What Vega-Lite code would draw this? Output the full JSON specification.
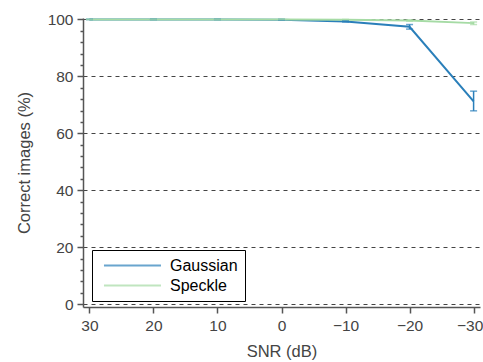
{
  "$schema": "https://vega.github.io/schema/vega-lite/v6.json",
  "width": 397,
  "height": 289,
  "autosize": "none",
  "padding": {"left": 83, "top": 18, "right": 3, "bottom": 55},
  "background": "white",
  "config": {
    "view": {"stroke": null},
    "font": "Liberation Sans",
    "axis": {
      "domainColor": "#555555",
      "domainWidth": 1.5,
      "tickColor": "#555555",
      "tickWidth": 1.5,
      "labelFont": "Liberation Sans",
      "labelFontSize": 15.5,
      "labelColor": "#444444",
      "titleFont": "Liberation Sans",
      "titleFontSize": 16.5,
      "titleFontWeight": "normal",
      "titleColor": "#444444"
    }
  },
  "data": {
    "values": [
      {"series": "Gaussian", "snr": 30, "acc": 100, "lo": 100, "hi": 100},
      {"series": "Gaussian", "snr": 20, "acc": 100, "lo": 100, "hi": 100},
      {"series": "Gaussian", "snr": 10, "acc": 100, "lo": 100, "hi": 100},
      {"series": "Gaussian", "snr": 0, "acc": 99.9, "lo": 99.8, "hi": 100},
      {"series": "Gaussian", "snr": -10, "acc": 99.3, "lo": 99.1, "hi": 99.5},
      {"series": "Gaussian", "snr": -20, "acc": 97.4, "lo": 96.6, "hi": 98.2},
      {"series": "Gaussian", "snr": -30, "acc": 71.2, "lo": 67.9, "hi": 74.8},
      {"series": "Speckle", "snr": 30, "acc": 100, "lo": 100, "hi": 100},
      {"series": "Speckle", "snr": 20, "acc": 100, "lo": 100, "hi": 100},
      {"series": "Speckle", "snr": 10, "acc": 100, "lo": 100, "hi": 100},
      {"series": "Speckle", "snr": 0, "acc": 100, "lo": 100, "hi": 100},
      {"series": "Speckle", "snr": -10, "acc": 99.9, "lo": 99.8, "hi": 100},
      {"series": "Speckle", "snr": -20, "acc": 99.6, "lo": 99.4, "hi": 99.8},
      {"series": "Speckle", "snr": -30, "acc": 98.7, "lo": 98.2, "hi": 99.1}
    ]
  },
  "encoding": {
    "x": {
      "field": "snr",
      "type": "quantitative",
      "scale": {"domain": [31, -31], "nice": false, "zero": false},
      "axis": {
        "title": "SNR (dB)",
        "values": [30, 20, 10, 0, -10, -20, -30],
        "labelExpr": "replace(format(datum.value, 'd'), '-', '\u2212')",
        "labelOffset": {"condition": {"test": "datum.value === -30", "value": -4}, "value": 0},
        "tickSize": 6,
        "labelPadding": 5,
        "titlePadding": 10,
        "grid": false
      }
    },
    "y": {
      "field": "acc",
      "type": "quantitative",
      "scale": {"domain": [-1, 100.5], "nice": false, "zero": false},
      "axis": {
        "title": "Correct images (%)",
        "values": [0, 4, 8, 12, 16, 20, 24, 28, 32, 36, 40, 44, 48, 52, 56, 60, 64, 68, 72, 76, 80, 84, 88, 92, 96, 100],
        "labelExpr": "datum.value % 20 === 0 ? datum.label : ''",
        "tickSize": {"condition": {"test": "datum.value % 20 === 0", "value": 6}, "value": 3},
        "labelPadding": 4,
        "titlePadding": 15,
        "grid": true,
        "gridColor": "#444444",
        "gridDash": [4, 4],
        "gridWidth": 1,
        "gridOpacity": {"condition": {"test": "datum.value % 20 === 0", "value": 1}, "value": 0}
      }
    },
    "color": {
      "field": "series",
      "type": "nominal",
      "scale": {"domain": ["Gaussian", "Speckle"], "range": ["#2a7fba", "#a6dba5"]},
      "legend": {
        "title": null,
        "orient": "none",
        "legendX": 9,
        "legendY": 232,
        "strokeColor": "black",
        "fillColor": "white",
        "padding": 7,
        "symbolType": "M-0.47,0H7.13",
        "symbolSize": 225,
        "symbolStrokeWidth": 2,
        "labelFontSize": 16,
        "labelColor": "black",
        "labelFont": "Liberation Sans",
        "labelOffset": 54,
        "rowPadding": 3,
        "offset": 0
      }
    }
  },
  "layer": [
    {"mark": {"type": "line", "strokeWidth": 2, "clip": false}},
    {
      "mark": {"type": "rule", "strokeWidth": 1.5},
      "encoding": {"y": {"field": "lo", "type": "quantitative"}, "y2": {"field": "hi"}}
    },
    {
      "mark": {"type": "tick", "orient": "horizontal", "size": 7, "thickness": 1.5},
      "encoding": {"y": {"field": "lo", "type": "quantitative"}}
    },
    {
      "mark": {"type": "tick", "orient": "horizontal", "size": 7, "thickness": 1.5},
      "encoding": {"y": {"field": "hi", "type": "quantitative"}}
    }
  ]
}
